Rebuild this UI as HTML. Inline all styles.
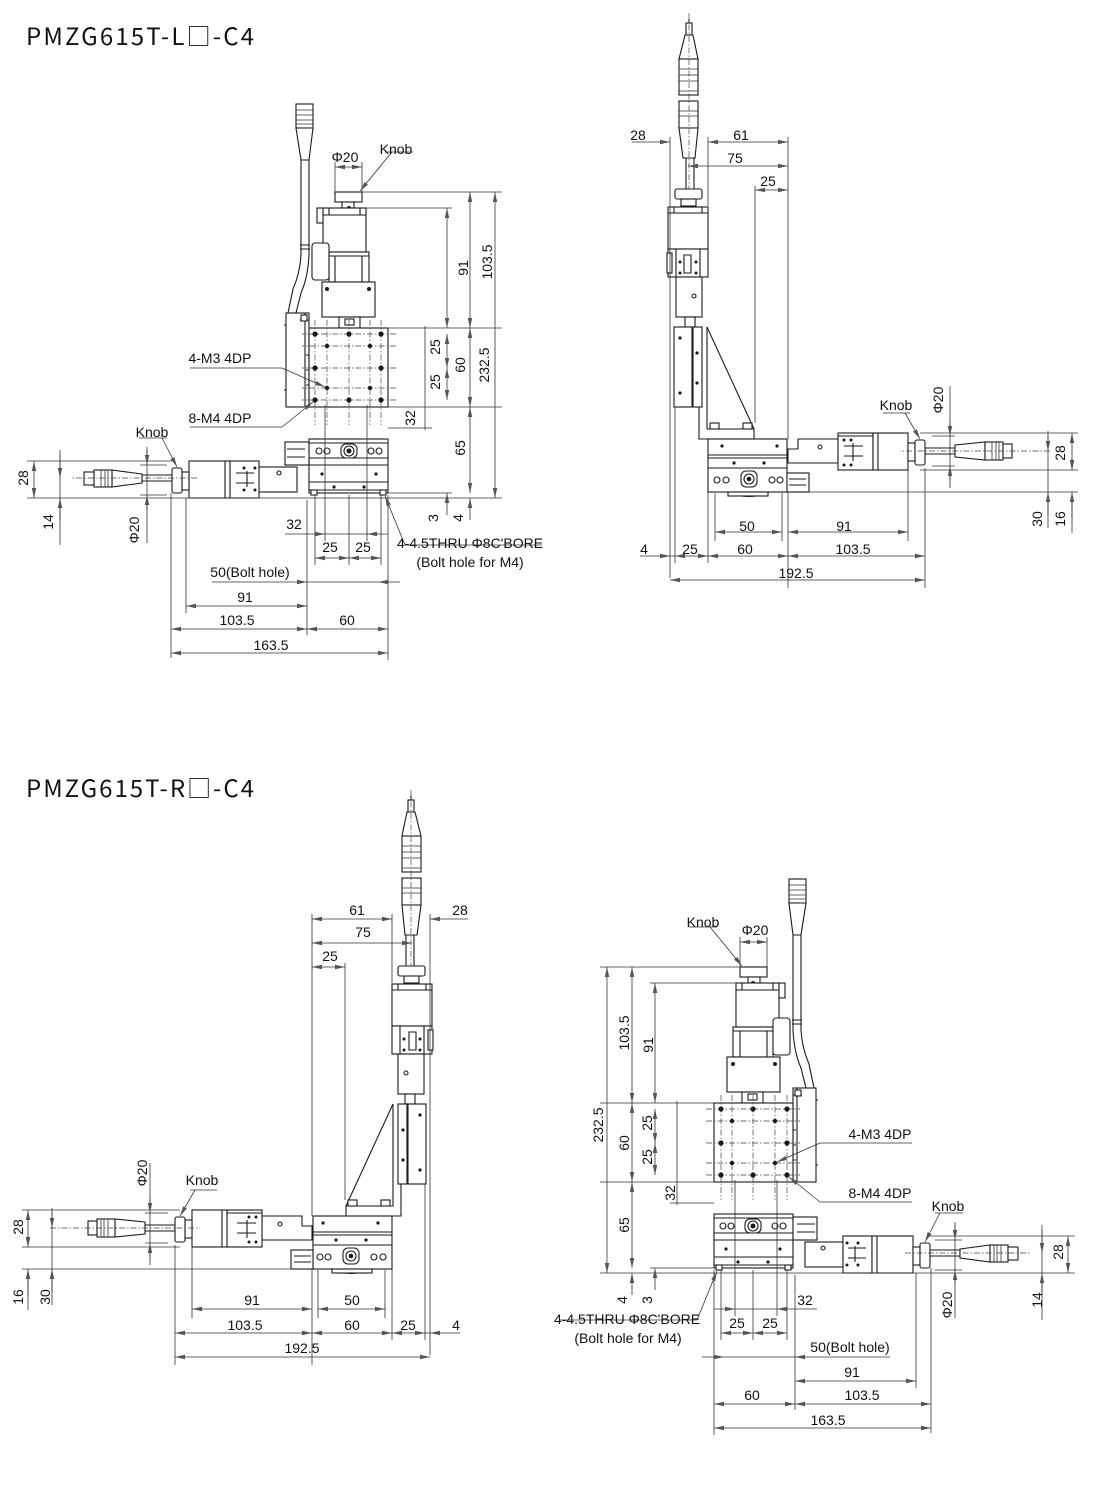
<!DOCTYPE html>
<html><head><meta charset="utf-8">
<style>
html,body{margin:0;padding:0;background:#fff;}
svg{display:block;}
.s{fill:none;stroke:#1a1a1a;stroke-width:1.1;}
.f{fill:#fff;stroke:#1a1a1a;stroke-width:1.1;}
.k{fill:#1a1a1a;stroke:none;}
.t{fill:none;stroke:#333;stroke-width:0.8;}
.c{fill:none;stroke:#444;stroke-width:0.7;stroke-dasharray:6 2 1.5 2;}
.dd{fill:none;stroke:#333;stroke-width:0.8;marker-start:url(#a);marker-end:url(#a);}
.de{fill:none;stroke:#333;stroke-width:0.8;marker-end:url(#a);}
text{font-family:"Liberation Sans Narrow","Liberation Sans",sans-serif;font-size:14px;fill:#111;text-anchor:middle;dominant-baseline:central;}
.ttl{font-family:"Noto Sans CJK JP","Liberation Sans",sans-serif;font-size:24px;text-anchor:start;dominant-baseline:alphabetic;}
</style></head><body>
<svg width="1100" height="1502" viewBox="0 0 1100 1502" xmlns="http://www.w3.org/2000/svg">
<defs>
<marker id="a" viewBox="0 0 10 6" refX="10" refY="3" markerWidth="10" markerHeight="6" markerUnits="userSpaceOnUse" orient="auto-start-reverse"><path d="M0,0.8 L10,3 L0,5.2 Z" fill="#555"/></marker>

<!-- ===== Drawing 4 geometry (bottom-right) ===== -->
<g id="g4">
 <!-- cable connector -->
 <rect class="f" x="789" y="879" width="17" height="24"/>
 <path class="t" d="M789,885H806M789,890H806M789,895H806M789,899H806"/>
 <path class="f" d="M789,903L806,903L801,935L793,935Z"/>
 <path class="s" d="M793,935V1030Q794,1052 801,1068L806,1088M801,935V1030Q802,1048 809,1064L814,1088"/>
 <path class="s" d="M792,1020H802M792,1024H802"/>
 <!-- knob -->
 <rect class="f" x="740" y="967" width="27" height="10"/>
 <rect class="f" x="748" y="977" width="12" height="6"/>
 <circle class="k" cx="753" cy="983" r="2"/>
 <!-- motor -->
 <rect class="f" x="736" y="983" width="43" height="44"/>
 <path class="s" d="M736,990H779M742,983V990M773,983V990"/>
 <rect class="f" x="779" y="983" width="6" height="15"/>
 <rect class="f" x="733" y="1027" width="40" height="30"/>
 <path class="s" d="M740,1031H767V1057M740,1031V1057M733,1031H740M767,1031H773"/>
 <rect class="f" x="773" y="1018" width="17" height="37" rx="3"/>
 <rect class="f" x="727" y="1057" width="53" height="35"/>
 <circle class="k" cx="733" cy="1064" r="2"/><circle class="k" cx="775" cy="1064" r="2"/>
 <rect class="f" x="742" y="1092" width="21" height="11"/>
 <rect class="f" x="748" y="1094" width="9" height="6"/>
 <!-- side bracket -->
 <rect class="f" x="793" y="1088" width="23" height="94"/>
 <path class="s" d="M797,1088V1182M793,1095H802"/>
 <rect class="f" x="795" y="1090" width="6" height="6"/>
 <path class="s" d="M793,1130h3M793,1145h3M793,1160h3M816,1100h2M816,1165h2"/>
 <!-- top plate -->
 <rect class="f" x="714" y="1103" width="79" height="79"/>
 <path class="c" d="M721,1095V1200M732,1095V1200M753,1095V1200M775,1095V1200M787,1095V1200"/>
 <path class="c" d="M706,1109H800M706,1121H800M706,1143H800M706,1163H800M706,1175H800"/>
 <g class="k">
  <circle cx="721" cy="1109" r="2.6"/><circle cx="753" cy="1109" r="2.6"/><circle cx="787" cy="1109" r="2.6"/>
  <circle cx="721" cy="1143" r="2.6"/><circle cx="787" cy="1143" r="2.6"/>
  <circle cx="721" cy="1175" r="2.6"/><circle cx="753" cy="1175" r="2.6"/><circle cx="787" cy="1175" r="2.6"/>
  <circle cx="732" cy="1121" r="2.2"/><circle cx="775" cy="1121" r="2.2"/>
  <circle cx="732" cy="1163" r="2.2"/><circle cx="775" cy="1163" r="2.2"/>
 </g>
 <!-- bottom stage -->
 <rect class="f" x="714" y="1214" width="79" height="54"/>
 <path class="s" d="M714,1218H793M714,1233H793M714,1240H793M714,1257H793M714,1265H793"/>
 <rect class="f" x="745" y="1219" width="16" height="14" rx="5"/>
 <circle class="s" cx="753" cy="1226" r="5"/><circle class="k" cx="753" cy="1226" r="2.5"/>
 <circle class="s" cx="723" cy="1226" r="3"/><circle class="s" cx="731" cy="1226" r="3"/>
 <circle class="s" cx="775" cy="1226" r="3"/><circle class="s" cx="783" cy="1226" r="3"/>
 <circle class="k" cx="726" cy="1249" r="1.6"/><circle class="k" cx="780" cy="1249" r="1.6"/>
 <circle class="k" cx="738" cy="1262" r="1.6"/><circle class="k" cx="768" cy="1262" r="1.6"/>
 <rect class="f" x="716" y="1265" width="6" height="5"/><rect class="f" x="785" y="1265" width="6" height="5"/>
 <!-- right actuator -->
 <rect class="f" x="793" y="1217" width="24" height="23"/>
 <path class="s" d="M797,1224H815M797,1232H815"/>
 <rect class="f" x="805" y="1242" width="38" height="25"/>
 <circle class="s" cx="823" cy="1248" r="2"/>
 <rect class="f" x="843" y="1236" width="29" height="37"/>
 <path class="s" d="M848,1248H866M848,1258H866M855,1246V1262"/>
 <circle class="k" cx="847" cy="1243" r="1.5"/><circle class="k" cx="858" cy="1243" r="1.5"/><circle class="k" cx="847" cy="1265" r="1.5"/><circle class="k" cx="858" cy="1265" r="1.5"/>
 <rect class="f" x="872" y="1236" width="41" height="37"/>
 <path class="s" d="M877,1236V1273"/>
 <rect class="f" x="913" y="1247" width="7" height="18"/>
 <rect class="f" x="920" y="1243" width="10" height="25" rx="2"/>
 <path class="s" d="M930,1250H960M930,1256H960"/>
 <path class="f" d="M960,1249L990,1245L990,1262L960,1258Z"/>
 <rect class="f" x="990" y="1245" width="18" height="17"/>
 <path class="t" d="M994,1245V1262M997,1245V1262M1001,1245V1262"/>
 <rect class="f" x="1008" y="1247" width="10" height="13"/>
 <path class="c" d="M905,1253H1030"/>
 <!-- extension lines -->
 <path class="t" d="M600,967H740M650,983H736M600,1103H714M600,1182H714M670,1203H714M600,1273H1075M650,1268H714"/>
 <path class="t" d="M930,1236H1075M935,1240H962M935,1270H962"/>
 <path class="t" d="M740,937V967M767,937V967"/>
 <path class="t" d="M714,1270V1435M795,1275V1410M916,1273V1388M931,1268V1433M721,1270V1340M753,1270V1340M787,1270V1340M735,1180V1316M777,1180V1316"/>
 <!-- dimension lines -->
 <path class="dd" d="M740,942H767"/>
 <path class="dd" d="M607,967V1273"/>
 <path class="dd" d="M632,967V1103"/>
 <path class="dd" d="M655,983V1103"/>
 <path class="dd" d="M632,1103V1182"/>
 <path class="dd" d="M655,1109V1143"/><path class="dd" d="M655,1143V1175"/>
 <path class="t" d="M677,1101V1205"/>
 <path class="dd" d="M632,1182V1268"/>
 <path class="de" d="M632,1295V1273"/>
 <path class="de" d="M655,1290V1268"/>
 <path class="dd" d="M1068,1236V1273"/>
 <path class="t" d="M1042,1225V1320"/>
 <path class="de" d="M1042,1230V1253"/><path class="de" d="M1042,1296V1273"/>
 <path class="t" d="M955,1222V1318"/>
 <path class="de" d="M955,1225V1240"/><path class="de" d="M955,1285V1270"/>
 <path class="de" d="M714,1309H735"/><path class="de" d="M817,1309H777"/><path class="t" d="M735,1309H777"/>
 <path class="dd" d="M721,1333H753"/><path class="dd" d="M753,1333H787"/>
 <path class="de" d="M702,1357H724"/><path class="de" d="M890,1357H795"/><path class="t" d="M724,1357H795"/>
 <path class="dd" d="M795,1381H916"/>
 <path class="dd" d="M714,1404H795"/><path class="dd" d="M795,1404H931"/>
 <path class="dd" d="M714,1428H931"/>
 <!-- leaders -->
 <path class="t" d="M689,927H717"/><path class="de" d="M710,927L742,966"/>
 <path class="t" d="M820,1143H912"/><path class="de" d="M820,1143L777,1162"/>
 <path class="t" d="M820,1202H912"/><path class="de" d="M820,1202L789,1177"/>
 <path class="t" d="M935,1213H963"/><path class="de" d="M940,1213L925,1242"/>
 <path class="t" d="M560,1320H697"/><path class="de" d="M697,1320L717,1271"/>
</g>

<!-- ===== Drawing 3 geometry (bottom-left) ===== -->
<g id="g3">
 <!-- connector -->
 <path class="s" d="M411,796V812"/>
 <rect class="f" x="408" y="800" width="6" height="12"/>
 <path class="f" d="M407,812L415,812L421,836L402,836Z"/>
 <rect class="f" x="402" y="836" width="19" height="36"/>
 <path class="t" d="M402,846H421M402,852H421M402,858H421M402,868H421"/>
 <rect class="f" x="402" y="878" width="19" height="27"/>
 <path class="t" d="M402,888H421M402,893H421"/>
 <path class="f" d="M402,905L421,905L417,935L405,935Z"/>
 <path class="s" d="M406,935V966M414,935V966"/>
 <path class="c" d="M411,790V980"/>
 <!-- knob / motor -->
 <rect class="f" x="398" y="966" width="27" height="10" rx="2"/>
 <rect class="f" x="404" y="976" width="15" height="7"/>
 <rect class="f" x="392" y="984" width="40" height="42"/>
 <path class="s" d="M392,990H432M398,984V990M426,984V990"/>
 <rect class="f" x="392" y="1026" width="40" height="28"/>
 <path class="s" d="M400,1026V1054M424,1026V1054M409,1032H416V1050H409Z"/>
 <circle class="k" cx="404" cy="1039" r="1.5"/><circle class="k" cx="420" cy="1039" r="1.5"/><circle class="k" cx="404" cy="1050" r="1.5"/><circle class="k" cx="420" cy="1050" r="1.5"/>
 <rect class="f" x="428" y="1030" width="5" height="20"/>
 <rect class="f" x="398" y="1054" width="26" height="40"/>
 <circle class="s" cx="406" cy="1073" r="2"/>
 <rect class="f" x="405" y="1094" width="10" height="10"/>
 <!-- rail -->
 <rect class="f" x="398" y="1104" width="28" height="80"/>
 <path class="s" d="M407,1104V1184M408,1104V1184"/>
 <circle class="k" cx="403" cy="1130" r="1.6"/><circle class="k" cx="403" cy="1160" r="1.6"/>
 <circle class="k" cx="420" cy="1115" r="1.6"/><circle class="k" cx="420" cy="1170" r="1.6"/>
 <!-- L bracket -->
 <path class="s" d="M401,1184V1216H392"/>
 <path class="s" d="M393,1104V1206H346V1216"/>
 <path class="s" d="M393,1104L346,1206"/>
 <rect class="f" x="348" y="1200" width="9" height="6"/><rect class="f" x="381" y="1200" width="9" height="6"/>
 <!-- stage -->
 <rect class="f" x="313" y="1216" width="79" height="53"/>
 <path class="s" d="M313,1232H392M313,1235H392M313,1245H392"/>
 <circle class="k" cx="323" cy="1223" r="1.6"/><circle class="k" cx="378" cy="1223" r="1.6"/>
 <circle class="k" cx="336" cy="1240" r="1.6"/><circle class="k" cx="366" cy="1240" r="1.6"/>
 <rect class="f" x="343" y="1248" width="16" height="16" rx="5"/>
 <circle class="s" cx="351" cy="1256" r="5"/><circle class="k" cx="351" cy="1256" r="2.3"/>
 <circle class="s" cx="320" cy="1257" r="3"/><circle class="s" cx="328" cy="1257" r="3"/>
 <circle class="s" cx="374" cy="1257" r="3"/><circle class="s" cx="383" cy="1257" r="3"/>
 <path class="s" d="M331,1269Q351,1278 372,1269"/>
 <rect class="f" x="332" y="1269" width="40" height="4"/>
 <!-- left actuator -->
 <rect class="f" x="291" y="1250" width="22" height="19"/>
 <path class="s" d="M294,1256H311M294,1262H311"/>
 <path class="f" d="M262,1216H302V1226H312V1240H262Z"/>
 <circle class="s" cx="280" cy="1224" r="2"/>
 <rect class="f" x="227" y="1210" width="35" height="37"/>
 <path class="s" d="M237,1223H256M237,1233H256M247,1220V1238M227,1213H262"/>
 <circle class="k" cx="249" cy="1217" r="1.5"/><circle class="k" cx="256" cy="1217" r="1.5"/><circle class="k" cx="249" cy="1242" r="1.5"/><circle class="k" cx="256" cy="1242" r="1.5"/>
 <rect class="f" x="192" y="1210" width="35" height="37"/>
 <path class="s" d="M222,1210V1247"/>
 <rect class="f" x="185" y="1220" width="7" height="18"/>
 <rect class="f" x="175" y="1217" width="10" height="25" rx="2"/>
 <path class="s" d="M145,1225H175M145,1231H175"/>
 <path class="f" d="M145,1222L115,1219L115,1237L145,1234Z"/>
 <rect class="f" x="97" y="1219" width="18" height="18"/>
 <path class="t" d="M101,1219V1237M104,1219V1237M108,1219V1237"/>
 <rect class="f" x="88" y="1221" width="9" height="14"/>
 <path class="c" d="M50,1228H200"/>
 <!-- extension lines -->
 <path class="t" d="M312,914V1216M392,914V983M430,914V1355M345,963V1200"/>
 <path class="t" d="M22,1210H180M22,1247H180M22,1269H292M145,1213H168M145,1243H168"/>
 <path class="t" d="M175,1245V1365M192,1247V1318M312,1269V1365M318,1270V1318M385,1270V1318M392,1269V1340M425,1184V1340"/>
 <!-- dims -->
 <path class="dd" d="M312,919H392"/>
 <path class="de" d="M468,919H430"/>
 <path class="dd" d="M312,943H412"/>
 <path class="dd" d="M312,967H345"/>
 <path class="dd" d="M28,1210V1247"/>
 <path class="t" d="M28,1269V1310"/><path class="de" d="M28,1295V1269"/><path class="de" d="M28,1235V1247"/>
 <path class="t" d="M52,1208V1305"/><path class="de" d="M52,1212V1228"/><path class="de" d="M52,1292V1269"/>
 <path class="t" d="M150,1163V1265"/><path class="de" d="M150,1198V1213"/><path class="de" d="M150,1258V1243"/>
 <path class="dd" d="M192,1309H312"/>
 <path class="dd" d="M318,1309H385"/>
 <path class="dd" d="M175,1333H312"/><path class="dd" d="M312,1333H392"/><path class="dd" d="M392,1333H425"/>
 <path class="de" d="M460,1333H430"/><path class="t" d="M425,1333H430"/>
 <path class="dd" d="M175,1357H430"/>
 <path class="t" d="M190,1190H217"/><path class="de" d="M195,1190L180,1216"/>
</g>
</defs>

<!-- titles -->
<text class="ttl" x="26" y="45" textLength="228">PMZG615T-L□-C4</text>
<text class="ttl" x="26" y="797" textLength="228">PMZG615T-R□-C4</text>

<use href="#g4"/>
<use href="#g4" transform="translate(1102,-775) scale(-1,1)"/>
<use href="#g3"/>
<use href="#g3" transform="translate(1100,-777) scale(-1,1)"/>

<!-- ===== texts drawing 1 ===== -->
<text x="345" y="157">Φ20</text>
<text x="396" y="149">Knob</text>
<text transform="translate(463,268) rotate(-90)">91</text>
<text transform="translate(487,262) rotate(-90)">103.5</text>
<text transform="translate(484,365) rotate(-90)">232.5</text>
<text transform="translate(435,347) rotate(-90)">25</text>
<text transform="translate(435,382) rotate(-90)">25</text>
<text transform="translate(460,365) rotate(-90)">60</text>
<text transform="translate(410,418) rotate(-90)">32</text>
<text transform="translate(460,448) rotate(-90)">65</text>
<text transform="translate(433,518) rotate(-90)">3</text>
<text transform="translate(458,518) rotate(-90)">4</text>
<text x="220" y="358">4-M3 4DP</text>
<text x="220" y="418">8-M4 4DP</text>
<text x="152" y="432">Knob</text>
<text transform="translate(23,478) rotate(-90)">28</text>
<text transform="translate(48,522) rotate(-90)">14</text>
<text transform="translate(134,530) rotate(-90)">Φ20</text>
<text x="294" y="524">32</text>
<text x="330" y="547">25</text>
<text x="363" y="547">25</text>
<text x="470" y="543">4-4.5THRU Φ8C'BORE</text>
<text x="470" y="562">(Bolt hole for M4)</text>
<text x="250" y="572">50(Bolt hole)</text>
<text x="245" y="597">91</text>
<text x="237" y="620">103.5</text>
<text x="347" y="620">60</text>
<text x="271" y="645">163.5</text>

<!-- ===== texts drawing 2 ===== -->
<text x="638" y="135">28</text>
<text x="741" y="135">61</text>
<text x="735" y="158">75</text>
<text x="768" y="181">25</text>
<text x="896" y="405">Knob</text>
<text transform="translate(938,400) rotate(-90)">Φ20</text>
<text transform="translate(1060,453) rotate(-90)">28</text>
<text transform="translate(1037,519) rotate(-90)">30</text>
<text transform="translate(1060,519) rotate(-90)">16</text>
<text x="747" y="526">50</text>
<text x="844" y="526">91</text>
<text x="644" y="549">4</text>
<text x="690" y="549">25</text>
<text x="745" y="549">60</text>
<text x="853" y="549">103.5</text>
<text x="796" y="573">192.5</text>

<!-- ===== texts drawing 3 ===== -->
<text x="357" y="910">61</text>
<text x="460" y="910">28</text>
<text x="363" y="932">75</text>
<text x="330" y="956">25</text>
<text transform="translate(142,1173) rotate(-90)">Φ20</text>
<text x="202" y="1180">Knob</text>
<text transform="translate(18,1227) rotate(-90)">28</text>
<text transform="translate(18,1297) rotate(-90)">16</text>
<text transform="translate(45,1297) rotate(-90)">30</text>
<text x="252" y="1300">91</text>
<text x="352" y="1300">50</text>
<text x="245" y="1325">103.5</text>
<text x="352" y="1325">60</text>
<text x="408" y="1325">25</text>
<text x="456" y="1325">4</text>
<text x="302" y="1348">192.5</text>

<!-- ===== texts drawing 4 ===== -->
<text x="703" y="922">Knob</text>
<text x="755" y="930">Φ20</text>
<text transform="translate(624,1033) rotate(-90)">103.5</text>
<text transform="translate(648,1045) rotate(-90)">91</text>
<text transform="translate(598,1125) rotate(-90)">232.5</text>
<text transform="translate(647,1123) rotate(-90)">25</text>
<text transform="translate(624,1143) rotate(-90)">60</text>
<text transform="translate(647,1157) rotate(-90)">25</text>
<text transform="translate(670,1193) rotate(-90)">32</text>
<text transform="translate(624,1225) rotate(-90)">65</text>
<text transform="translate(622,1300) rotate(-90)">4</text>
<text transform="translate(647,1300) rotate(-90)">3</text>
<text x="880" y="1134">4-M3 4DP</text>
<text x="880" y="1193">8-M4 4DP</text>
<text x="948" y="1206">Knob</text>
<text transform="translate(1058,1252) rotate(-90)">28</text>
<text transform="translate(947,1305) rotate(-90)">Φ20</text>
<text transform="translate(1037,1300) rotate(-90)">14</text>
<text x="627" y="1319">4-4.5THRU Φ8C'BORE</text>
<text x="628" y="1338">(Bolt hole for M4)</text>
<text x="805" y="1300">32</text>
<text x="737" y="1323">25</text>
<text x="770" y="1323">25</text>
<text x="850" y="1347">50(Bolt hole)</text>
<text x="852" y="1372">91</text>
<text x="862" y="1395">103.5</text>
<text x="752" y="1395">60</text>
<text x="828" y="1420">163.5</text>
</svg>
</body></html>
